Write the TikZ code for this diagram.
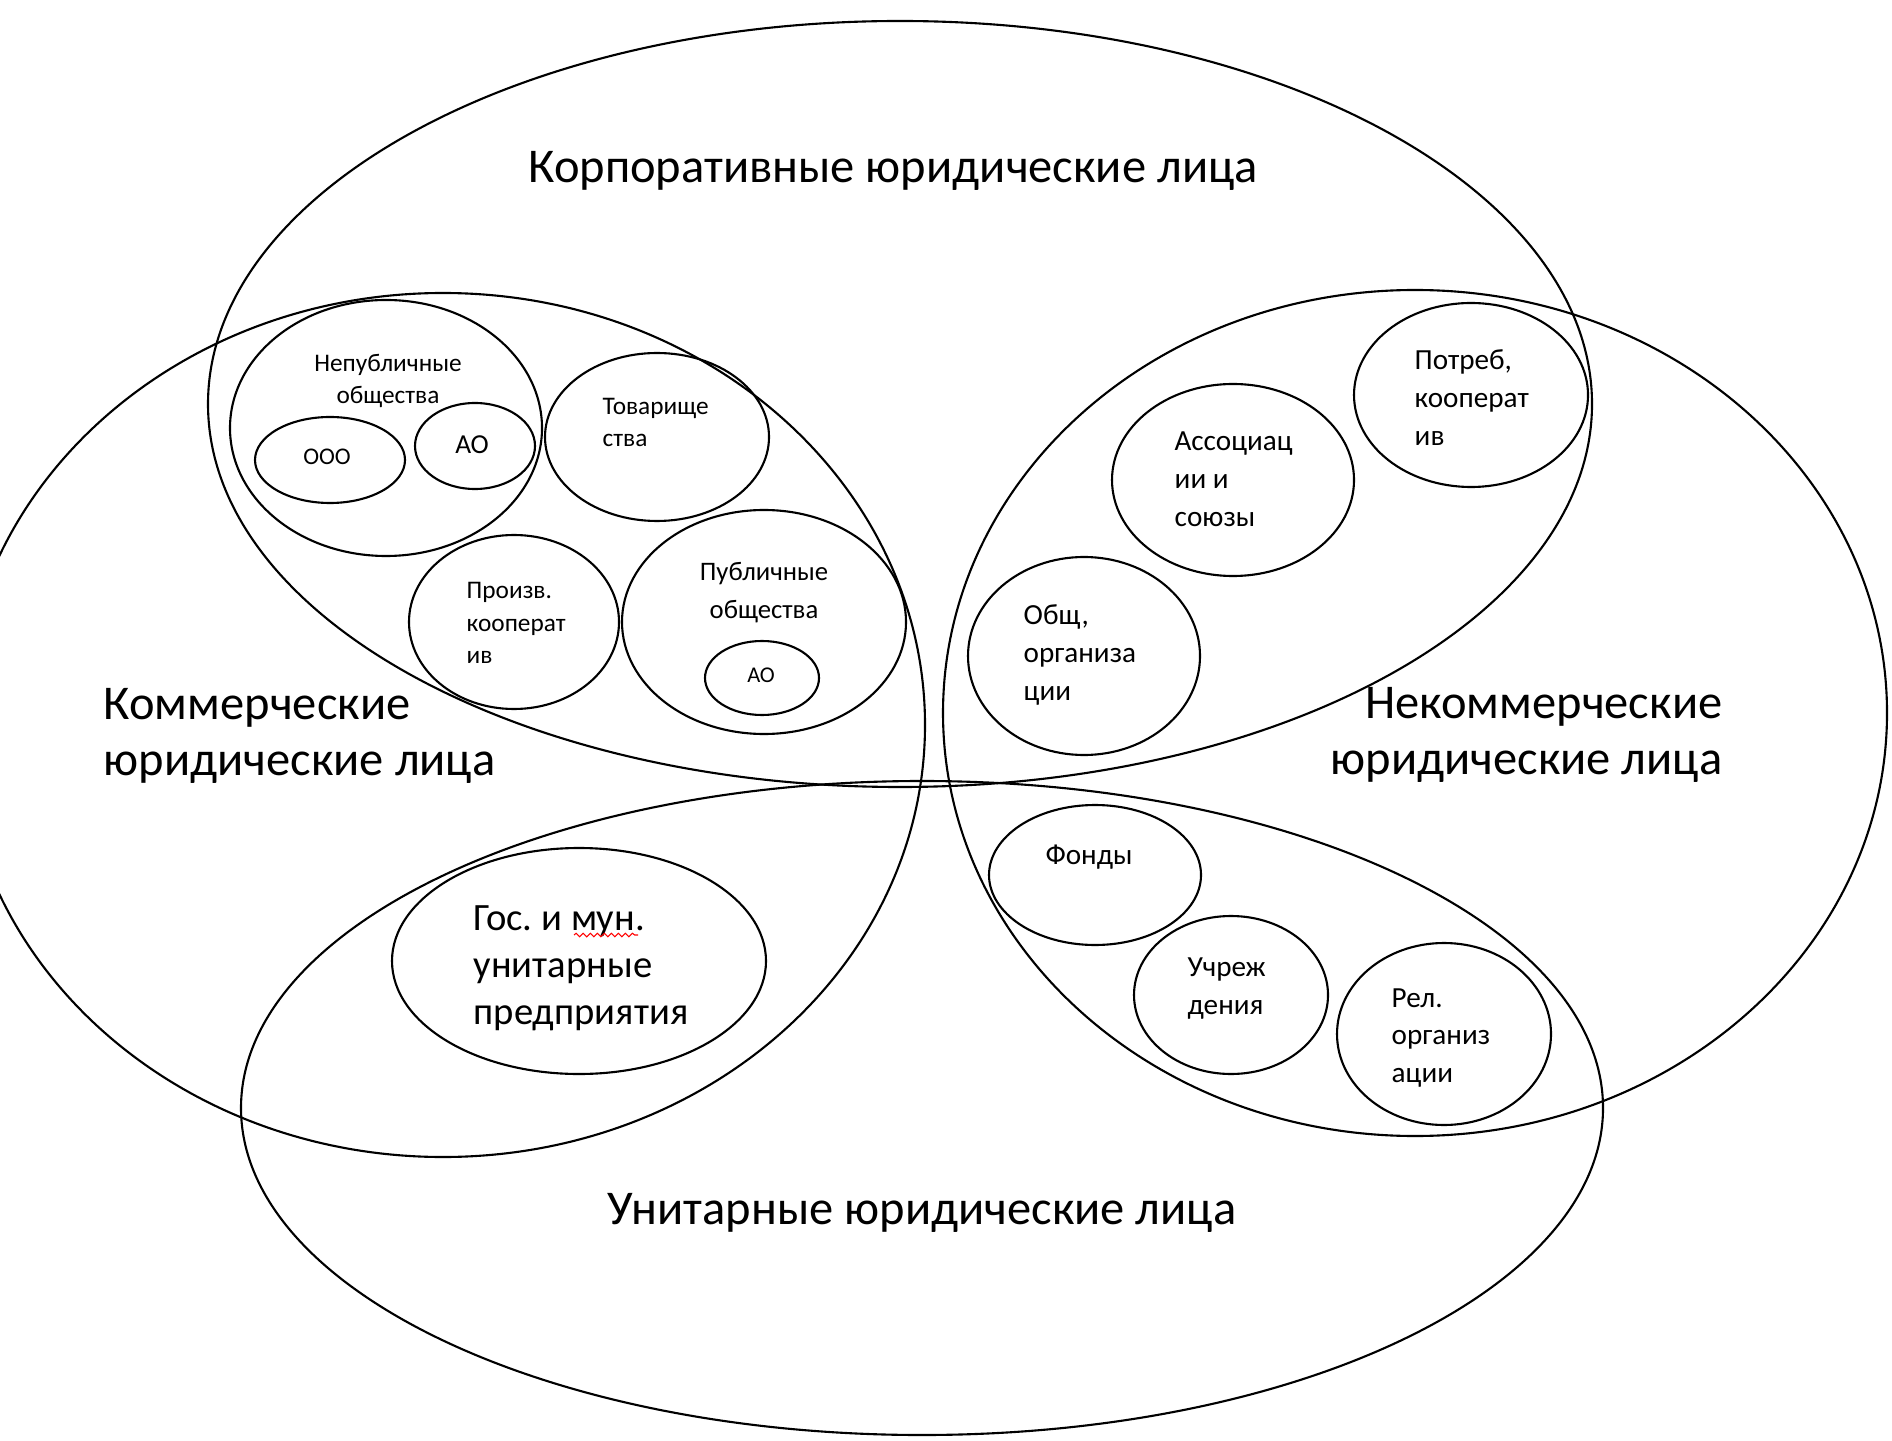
\documentclass[tikz,border=0pt]{standalone}
\usepackage{fontspec}
\setmainfont{Carlito}
\frenchspacing
\usetikzlibrary{shapes.geometric,decorations.pathmorphing}

\begin{document}
\begin{tikzpicture}[set/.style = {ellipse, draw, line width=0.6pt, inner sep=0pt},
	big/.style = {font=\fontsize{13.8}{16}\selectfont, inner sep=0pt},
	mid/.style = {font=\fontsize{11}{13.4}\selectfont, inner sep=0pt, align=left},
	tagl/.style = {font=\fontsize{7.2}{9.2}\selectfont, inner sep=0pt},
	tagr/.style = {font=\fontsize{8.3}{10.8}\selectfont, inner sep=0pt, align=left}]
	\useasboundingbox (0,0) rectangle (18.92,14.40);
	% four main sets
	\node[set, minimum width=13.84cm, minimum height=7.66cm] (corp) at (9.00,10.36) {};
	\node[set, minimum width=9.64cm, minimum height=8.64cm] (comm) at (4.43,7.15) {};
	\node[set, minimum width=9.44cm, minimum height=8.46cm] (ncomm) at (14.15,7.27) {};
	\node[set, minimum width=13.62cm, minimum height=6.54cm] (unit) at (9.22,3.32) {};
	\node[big] (corpT) at (8.93,12.69) {Корпоративные юридические лица};
	\node[big, anchor=west, align=left] (commT) at (1.03,7.04) {Коммерческие\\юридические лица};
	\node[big, anchor=east, align=right] (ncommT) at (17.23,7.05) {Некоммерческие\\юридические лица};
	\node[big] (unitT) at (9.22,2.27) {Унитарные юридические лица};
	% commercial corporations
	\node[set, minimum width=3.12cm, minimum height=2.56cm] (npub) at (3.86,10.12) {};
	\node[set, minimum width=1.50cm, minimum height=0.86cm] (ooo) at (3.30,9.80) {};
	\node[set, minimum width=1.20cm, minimum height=0.86cm] (ao1) at (4.75,9.94) {};
	\node[set, minimum width=2.24cm, minimum height=1.68cm] (tov) at (6.57,10.03) {};
	\node[set, minimum width=2.10cm, minimum height=1.74cm] (pk) at (5.14,8.18) {};
	\node[set, minimum width=2.84cm, minimum height=2.24cm] (pub) at (7.64,8.18) {};
	\node[set, minimum width=1.14cm, minimum height=0.74cm] (ao2) at (7.62,7.62) {};
	\node[tagl, align=center] (npubT) at (3.88,10.59) {Непубличные\\общества};
	\node[tagl, font=\fontsize{6.8}{8}\selectfont] (oooT) at (3.27,9.83) {ООО};
	\node[tagl, font=\fontsize{7.8}{9}\selectfont] (ao1T) at (4.72,9.95) {АО};
	\node[tagl, anchor=west, align=left] (tovT) at (6.02,10.175) {Товарище\\ства};
	\node[tagl, anchor=west, align=left] (pkT) at (4.66,8.17) {Произв.\\кооперат\\ив};
	\node[tagl, align=center, font=\fontsize{7.6}{11}\selectfont] (pubT) at (7.64,8.475) {Публичные\\общества};
	\node[tagl, font=\fontsize{6.4}{8}\selectfont] (ao2T) at (7.61,7.65) {АО};
	% non-commercial corporations
	\node[set, minimum width=2.34cm, minimum height=1.84cm] (potr) at (14.71,10.45) {};
	\node[set, minimum width=2.42cm, minimum height=1.92cm] (assoc) at (12.33,9.60) {};
	\node[set, minimum width=2.32cm, minimum height=1.98cm] (obsh) at (10.84,7.84) {};
	\node[tagr, anchor=west] (potrT) at (14.14,10.42) {Потреб,\\кооперат\\ив};
	\node[tagr, anchor=west] (assocT) at (11.74,9.605) {Ассоциац\\ии и\\союзы};
	\node[tagr, anchor=west] (obshT) at (10.23,7.85) {Общ,\\организа\\ции};
	% non-commercial unitary
	\node[set, minimum width=2.12cm, minimum height=1.40cm] (fond) at (10.95,5.65) {};
	\node[set, minimum width=1.94cm, minimum height=1.58cm] (uchr) at (12.31,4.45) {};
	\node[set, minimum width=2.14cm, minimum height=1.82cm] (rel) at (14.44,4.06) {};
	\node[tagr] (fondT) at (10.89,5.83) {Фонды};
	\node[tagr, anchor=west] (uchrT) at (11.87,4.51) {Учреж\\дения};
	\node[tagr, anchor=west] (relT) at (13.91,4.02) {Рел.\\организ\\ации};
	% commercial unitary
	\node[set, minimum width=3.74cm, minimum height=2.26cm] (gos) at (5.79,4.79) {};
	\node[mid, anchor=west] (gosT) at (4.73,4.72) {Гос. и мун.\\унитарные\\предприятия};
	\coordinate (wavyL) at (5.74,5.05);
	\coordinate (wavyR) at (6.38,5.05);
	\draw[red, line width=0.3pt, decorate, decoration={snake, amplitude=0.5pt, segment length=2pt}] (wavyL) -- (wavyR);
\end{tikzpicture}
\end{document}
